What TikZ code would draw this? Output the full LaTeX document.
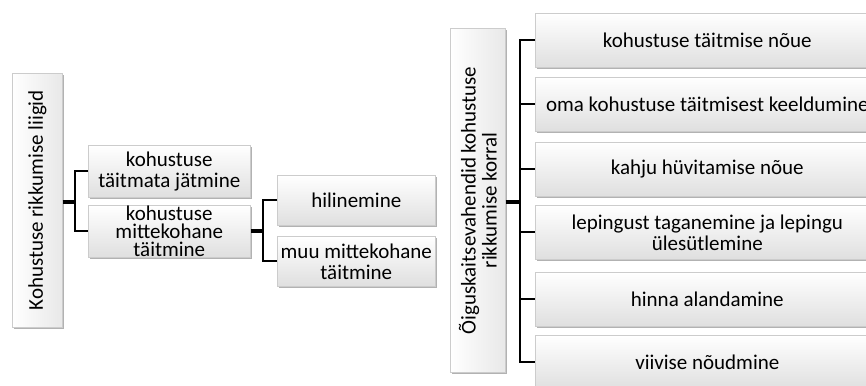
\documentclass[tikz,border=0pt]{standalone}
\usepackage{fontspec}
\setmainfont{Carlito}
\usetikzlibrary{shadows}
\begin{document}
\begin{tikzpicture}[x=1pt,y=-1pt,
  basebox/.style={draw=gray!40, line width=0.6pt,
    drop shadow={shadow xshift=1.2pt, shadow yshift=-1.6pt, opacity=0.3, fill=black},
    inner sep=0pt, anchor=north west},
  box/.style={basebox, top color=white, bottom color=gray!25},
  tallbox/.style={basebox, left color=white, right color=gray!18},
  txt/.style={font=\fontsize{21}{21}\selectfont, align=center, text=black, inner sep=0pt},
  conn/.style={line width=1.8pt, black},
  stub/.style={line width=3.2pt, black}]
\useasboundingbox (0,0) rectangle (866,385);
\clip (0,0) rectangle (866,385);

% left tall box
\node[tallbox, minimum width=50, minimum height=254] (L) at (12,73) {};
\node[txt, rotate=90] (Lt) at (L.center) {Kohustuse rikkumise liigid};

% second level
\node[box, minimum width=162, minimum height=52] (A) at (88,145) {};
\node[txt] (At) at (A.center) {kohustuse\\täitmata jätmine};
\node[box, minimum width=162, minimum height=52] (B) at (88,205) {};
\node[txt, font=\fontsize{21}{18}\selectfont] (Bt) at (B.center) {kohustuse\\mittekohane\\täitmine};

% third level
\node[box, minimum width=158, minimum height=50] (C) at (277,175) {};
\node[txt] (Ct) at (C.center) {hilinemine};
\node[box, minimum width=158, minimum height=50] (D) at (277,236) {};
\node[txt] (Dt) at (D.center) {muu mittekohane\\täitmine};

% right tall box
\node[tallbox, minimum width=55, minimum height=344] (R) at (450,28) {};
\node[txt, rotate=90] (Rt) at (R.center) {Õiguskaitsevahendid kohustuse\\rikkumise korral};

% right boxes
\node[box, minimum width=344, minimum height=54] (R1) at (535,13) {};
\node[txt] (R1t) at (R1.center) {kohustuse täitmise nõue};
\node[box, minimum width=344, minimum height=54] (R2) at (535,77) {};
\node[txt] (R2t) at (R2.center) {oma kohustuse täitmisest keeldumine};
\node[box, minimum width=344, minimum height=54] (R3) at (535,142) {};
\node[txt] (R3t) at (R3.center) {kahju hüvitamise nõue};
\node[box, minimum width=344, minimum height=54] (R4) at (535,205) {};
\node[txt] (R4t) at (R4.center) {lepingust taganemine ja lepingu\\ülesütlemine};
\node[box, minimum width=344, minimum height=54] (R5) at (535,272) {};
\node[txt] (R5t) at (R5.center) {hinna alandamine};
\node[box, minimum width=344, minimum height=54] (R6) at (535,335) {};
\node[txt] (R6t) at (R6.center) {viivise nõudmine};

% connectors left
\coordinate (j1) at (75,202);
\draw[stub] (L.east |- j1) -- (j1);
\draw[conn] (A.west) -| (j1) |- (B.west);
\coordinate (j2) at (263,231);
\draw[stub] (B.east |- j2) -- (j2);
\draw[conn] (C.west) -| (j2) |- (D.west);

% connectors right
\coordinate (j3) at (520,202);
\draw[stub] (R.east |- j3) -- (j3);
\draw[conn] (R1.west) -| (j3) |- (R6.west);
\foreach \n in {R2,R3,R4,R5} \draw[conn] (j3 |- \n.west) -- (\n.west);
\end{tikzpicture}
\end{document}
